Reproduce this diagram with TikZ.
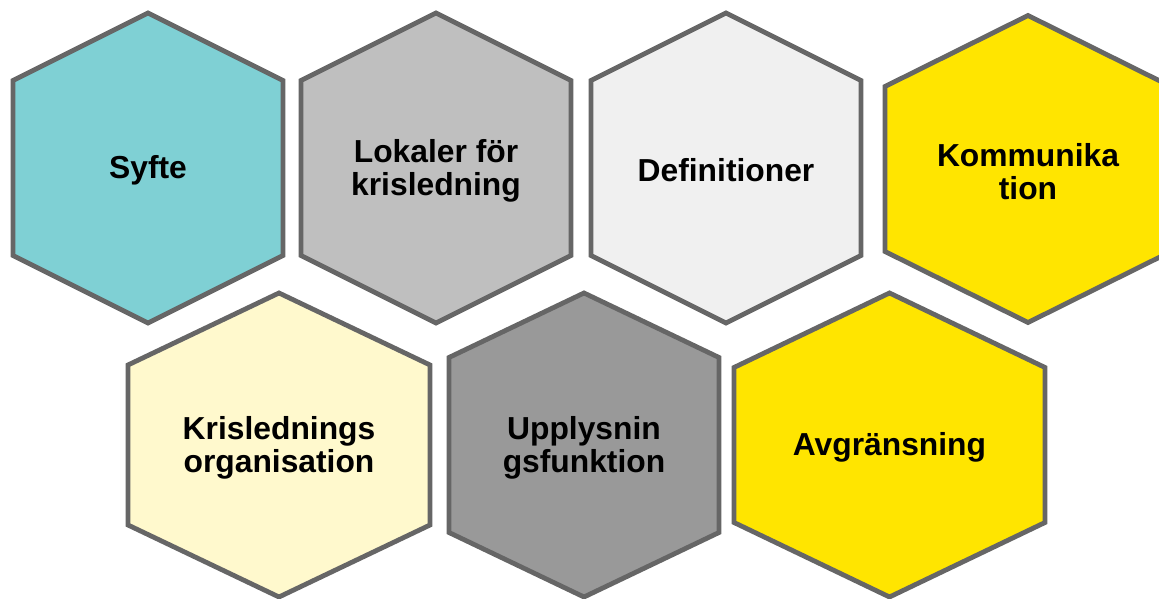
\documentclass[tikz,border=0pt]{standalone}
\usepackage{fontspec}
\setmainfont{Liberation Sans}
\usepackage{tikz}

\definecolor{hexline}{HTML}{666666}
\definecolor{syftefill}{HTML}{7FD0D4}
\definecolor{lokalfill}{HTML}{BFBFBF}
\definecolor{deffill}{HTML}{F0F0F0}
\definecolor{gulfill}{HTML}{FFE500}
\definecolor{orgfill}{HTML}{FFF9CD}
\definecolor{upplfill}{HTML}{999999}

\tikzset{
    hexa/.style={draw=hexline, line width=4.8pt, line join=miter},
    hexlabel/.style={font=\bfseries\fontsize{31.8}{33}\selectfont, align=center, inner sep=0pt, yshift=-2.5pt}
}

\begin{document}
\begin{tikzpicture}[x=1pt, y=1pt]
    \clip (0,0) rectangle (1159,599);
    % name / centre x / centre y / half width / half height / half side / fill / text
    \foreach \n/\cx/\cy/\hw/\hh/\hs/\col/\txt in {
        syfte/148/431/135/155/87.5/syftefill/{Syfte},
        lokaler/436/431/135/155/87.5/lokalfill/{Lokaler för\\krisledning},
        def/726/431/135/155/87.5/deffill/{Definitioner},
        komm/1028/430/143/153.5/82.5/gulfill/{Kommunika\\tion},
        org/279/154/151/152/80/orgfill/{Krislednings\\organisation},
        uppl/584/154/135/152/87.5/upplfill/{Upplysnin\\gsfunktion},
        avgr/889.5/154/155.5/152/77.5/gulfill/{Avgränsning}} {
        \filldraw[hexa, fill=\col] (\cx,\cy+\hh) -- (\cx+\hw,\cy+\hs) -- (\cx+\hw,\cy-\hs)
            -- (\cx,\cy-\hh) -- (\cx-\hw,\cy-\hs) -- (\cx-\hw,\cy+\hs) -- cycle;
        \node[hexlabel] (\n) at (\cx,\cy) {\txt};
    }
\end{tikzpicture}
\end{document}
